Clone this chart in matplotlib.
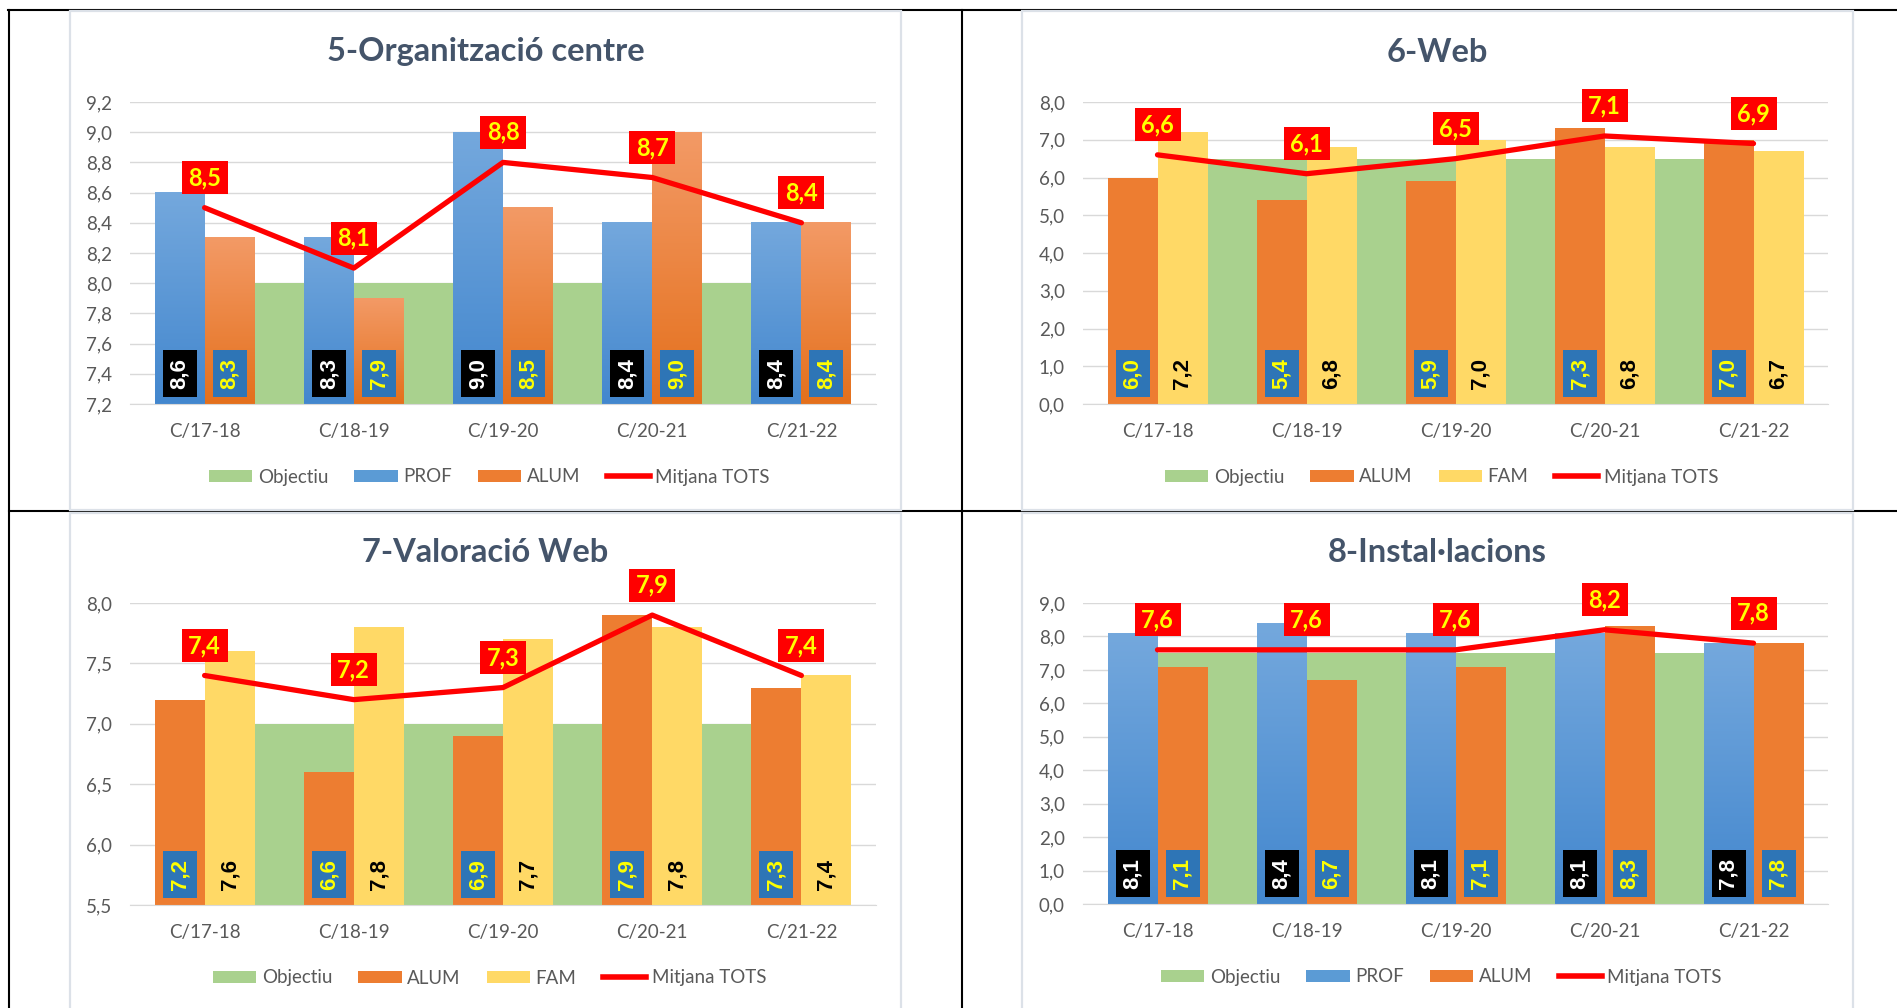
import numpy as np
import matplotlib
matplotlib.use('Agg')
import matplotlib.pyplot as plt
from matplotlib.patches import Rectangle, Patch
from matplotlib.lines import Line2D
from matplotlib.colors import LinearSegmentedColormap

# ---- data ----
categories = ['C/17-18', 'C/18-19', 'C/19-20', 'C/20-21', 'C/21-22']

org_objectiu = [8.0, 8.0, 8.0, 8.0, 8.0]
org_prof = [8.6, 8.3, 9.0, 8.4, 8.4]
org_alum = [8.3, 7.9, 8.5, 9.0, 8.4]
org_tots = [8.5, 8.1, 8.8, 8.7, 8.4]

web_objectiu = [6.5, 6.5, 6.5, 6.5, 6.5]
web_alum = [6.0, 5.4, 5.9, 7.3, 7.0]
web_fam = [7.2, 6.8, 7.0, 6.8, 6.7]
web_tots = [6.6, 6.1, 6.5, 7.1, 6.9]

valweb_objectiu = [7.0, 7.0, 7.0, 7.0, 7.0]
valweb_alum = [7.2, 6.6, 6.9, 7.9, 7.3]
valweb_fam = [7.6, 7.8, 7.7, 7.8, 7.4]
valweb_tots = [7.4, 7.2, 7.3, 7.9, 7.4]

inst_objectiu = [7.5, 7.5, 7.5, 7.5, 7.5]
inst_prof = [8.1, 8.4, 8.1, 8.1, 7.8]
inst_alum = [7.1, 6.7, 7.1, 8.3, 7.8]
inst_tots = [7.6, 7.6, 7.6, 8.2, 7.8]

W, H = 1897, 1008

GREEN = '#A9D18E'
RED = '#FF0000'
YELLOW_TXT = '#FFFF00'
LABEL_BLUE = '#2E75B6'
TXT_GRAY = '#595959'
GRID = '#D9D9D9'
PANEL_EDGE = '#DCE1E8'

# series look: bar colours (top, bottom of gradient), label box, label text
STYLES = {
    'prof': dict(top='#74A8DD', bottom='#4387CE', legend='#5B9BD5', box='black', txt='white'),
    'alum_grad': dict(top='#F39A66', bottom='#E4701C', legend='#ED7D31', box=LABEL_BLUE, txt=YELLOW_TXT),
    'alum': dict(top='#ED7D31', bottom='#ED7D31', legend='#ED7D31', box=LABEL_BLUE, txt=YELLOW_TXT),
    'fam': dict(top='#FFD966', bottom='#FFD966', legend='#FFD966', box=None, txt='black'),
}

CALIBRI = ['Lato', 'DejaVu Sans']
ARIAL = ['Liberation Sans', 'DejaVu Sans']


def fx(x):
    return x / W


def fy(y):
    return 1 - y / H


def fmt(v):
    return f"{v:.1f}".replace('.', ',')


def draw_bar(ax, x, val, ymin, width, st):
    if st['top'] == st['bottom']:
        ax.bar(x, val - ymin, width, bottom=ymin, color=st['top'], zorder=2)
        return
    cmap = LinearSegmentedColormap.from_list('g', [st['bottom'], st['top']])
    grad = np.linspace(0, 1, 128).reshape(-1, 1)
    ax.imshow(grad, cmap=cmap, origin='lower', aspect='auto', zorder=2,
              extent=[x - width / 2, x + width / 2, ymin, val], interpolation='bilinear')


def draw_chart(fig, panel, plot, title, yaxis, objectiu, left, right, tots, styles, names):
    px0, py0, px1, py1 = plot
    ymin, ymax, step = yaxis
    ax = fig.add_axes([fx(px0), fy(py1), (px1 - px0) / W, (py1 - py0) / H])
    ax.patch.set_visible(False)

    ppx = (px1 - px0) / len(categories)
    ppy = (py1 - py0) / (ymax - ymin)
    xs = np.arange(len(categories))
    bw = 50 / ppx

    # objectiu drawn as area behind the bars
    ax.fill_between(xs, ymin, objectiu, color=GREEN, lw=0, zorder=1)

    for vals, st_name, side in [(left, styles[0], -1), (right, styles[1], 1)]:
        st = STYLES[st_name]
        for i, v in enumerate(vals):
            bx = i + side * bw / 2
            draw_bar(ax, bx, v, ymin, bw, st)
            cy = ymin + 30.5 / ppy
            if st['box'] is not None:
                ax.add_patch(Rectangle((bx - 17 / ppx, cy - 23.5 / ppy), 34 / ppx, 47 / ppy,
                                       fc=st['box'], ec='none', zorder=3))
            ax.text(bx, cy, fmt(v), rotation=90, ha='center', va='center', color=st['txt'],
                    fontsize=16, fontweight='bold', family=ARIAL, zorder=4)

    ax.plot(xs, tots, color=RED, lw=3.8, zorder=5, solid_capstyle='round', clip_on=False)
    for i, v in enumerate(tots):
        cy = v + 30 / ppy
        ax.add_patch(Rectangle((i - 23 / ppx, cy - 16.5 / ppy), 46 / ppx, 33 / ppy,
                               fc=RED, ec='none', zorder=6, clip_on=False))
        ax.text(i, cy, fmt(v), ha='center', va='center', color=YELLOW_TXT, fontsize=17,
                fontweight='bold', family=CALIBRI, zorder=7, clip_on=False)

    ax.set_xlim(-0.5, len(categories) - 0.5)
    ax.set_ylim(ymin, ymax)
    ticks = np.arange(ymin, ymax + step / 2, step)
    ax.set_yticks(ticks)
    ax.set_yticklabels([fmt(t) for t in ticks], family=CALIBRI, fontsize=13.5, color=TXT_GRAY)
    ax.set_xticks(xs)
    ax.set_xticklabels(categories, family=CALIBRI, fontsize=13.5, color=TXT_GRAY)
    ax.tick_params(length=0)
    ax.tick_params(axis='y', pad=13)
    ax.tick_params(axis='x', pad=14)
    ax.yaxis.grid(True, color=GRID, lw=1)
    ax.set_axisbelow(True)
    for s in ['top', 'right', 'left']:
        ax.spines[s].set_visible(False)
    ax.spines['bottom'].set_color(GRID)

    cx = (panel[0] + panel[2]) / 2
    fig.text(fx(cx), fy(py0 - 50), title, ha='center', va='center', fontsize=23.5,
             fontweight='bold', color='#44546A', family=CALIBRI)

    handles = [Patch(fc=GREEN, ec='none')]
    for st_name in styles:
        handles.append(Patch(fc=STYLES[st_name]['legend'], ec='none'))
    handles.append(Line2D([], [], color=RED, lw=4))
    fig.legend(handles, names, loc='center', bbox_to_anchor=(fx(cx + 4), fy(py1 + 73)), ncol=4,
               frameon=False, prop={'family': CALIBRI, 'size': 13.5}, labelcolor=TXT_GRAY,
               handlelength=2.3, handleheight=0.6, handletextpad=0.3, columnspacing=1.4)


def main():
    fig = plt.figure(figsize=(W / 100, H / 100), dpi=100)
    fig.patch.set_facecolor('white')

    # table borders
    black = dict(color='black', lw=1.5, transform=fig.transFigure, zorder=-3)
    fig.add_artist(Line2D([fx(8), 1], [fy(10), fy(10)], **black))
    fig.add_artist(Line2D([fx(9), fx(9)], [fy(10), 0], **black))
    fig.add_artist(Line2D([fx(962), fx(962)], [fy(10), 0], **black))
    fig.add_artist(Line2D([fx(9), 1], [fy(511), fy(511)], **black))

    panels = [(70, 11, 901, 510), (1022, 11, 1853, 510), (70, 513, 901, 1012), (1022, 513, 1853, 1012)]
    for p in panels:
        fig.add_artist(Rectangle((fx(p[0]), fy(p[3])), (p[2] - p[0]) / W, (p[3] - p[1]) / H,
                                 transform=fig.transFigure, fc='white', ec=PANEL_EDGE, lw=1.6, zorder=-2))

    draw_chart(fig, panels[0], (130, 102, 876, 404), '5-Organització centre', (7.2, 9.2, 0.2),
               org_objectiu, org_prof, org_alum, org_tots, ('prof', 'alum_grad'),
               ['Objectiu', 'PROF', 'ALUM', 'Mitjana TOTS'])
    draw_chart(fig, panels[1], (1083, 102, 1828, 404), '6-Web', (0, 8, 1),
               web_objectiu, web_alum, web_fam, web_tots, ('alum', 'fam'),
               ['Objectiu', 'ALUM', 'FAM', 'Mitjana TOTS'])
    draw_chart(fig, panels[2], (130, 603, 876, 905), '7-Valoració Web', (5.5, 8.0, 0.5),
               valweb_objectiu, valweb_alum, valweb_fam, valweb_tots, ('alum', 'fam'),
               ['Objectiu', 'ALUM', 'FAM', 'Mitjana TOTS'])
    draw_chart(fig, panels[3], (1083, 603, 1828, 904), '8-Instal·lacions', (0, 9, 1),
               inst_objectiu, inst_prof, inst_alum, inst_tots, ('prof', 'alum'),
               ['Objectiu', 'PROF', 'ALUM', 'Mitjana TOTS'])

    fig.savefig('out.png', dpi=100)


if __name__ == "__main__":
    main()
